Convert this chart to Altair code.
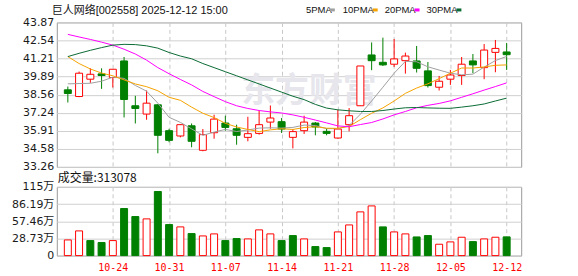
import altair as alt
import pandas as pd

# ---------------- data ----------------
dates = ["10-20", "10-21", "10-22", "10-23", "10-24", "10-27", "10-28", "10-29", "10-30", "10-31",
         "11-03", "11-04", "11-05", "11-06", "11-07", "11-10", "11-11", "11-12", "11-13", "11-14",
         "11-17", "11-18", "11-19", "11-20", "11-21", "11-24", "11-25", "11-26", "11-27", "11-28",
         "12-01", "12-02", "12-03", "12-04", "12-05", "12-08", "12-09", "12-10", "12-11", "12-12"]
opens = [38.92, 38.43, 39.70, 40.09, 39.82, 41.04, 37.75, 37.14, 37.82, 35.92,
         35.53, 36.28, 34.48, 35.77, 36.48, 36.06, 35.43, 35.72, 36.55, 36.58,
         35.43, 35.92, 36.48, 35.87, 35.38, 36.36, 37.75, 41.48, 40.94, 40.80,
         41.06, 41.04, 40.31, 39.11, 39.70, 39.97, 41.04, 40.55, 41.67, 41.70]
highs = [39.16, 40.26, 40.50, 40.50, 40.43, 41.33, 38.48, 38.87, 37.87, 36.06,
         36.40, 36.45, 36.04, 37.09, 37.02, 36.36, 36.94, 37.41, 37.77, 36.85,
         36.04, 37.02, 36.55, 36.11, 37.45, 37.58, 40.67, 42.40, 42.75, 42.65,
         41.65, 42.14, 40.96, 39.94, 40.38, 41.33, 41.55, 42.28, 42.58, 42.36]
lows = [37.99, 38.38, 39.43, 38.99, 39.09, 36.89, 36.45, 36.72, 34.26, 35.07,
        35.43, 34.70, 34.41, 35.33, 35.92, 34.89, 35.14, 35.63, 36.06, 35.75,
        34.62, 35.68, 35.58, 35.58, 35.33, 35.87, 37.75, 40.36, 40.67, 40.60,
        40.11, 40.19, 39.09, 38.87, 39.28, 39.28, 40.14, 39.70, 40.21, 40.38]
closes = [38.65, 40.14, 40.06, 39.97, 40.43, 38.21, 37.55, 37.94, 35.58, 35.21,
          36.36, 35.14, 35.63, 36.77, 36.16, 35.58, 35.70, 36.36, 36.85, 36.04,
          35.85, 36.55, 36.19, 35.72, 36.04, 37.02, 40.67, 41.06, 40.75, 41.19,
          41.40, 40.50, 39.23, 39.55, 40.01, 40.80, 40.75, 41.84, 41.96, 41.50]
prev_close = 38.40  # close of the session before the first shown
volumes = [26.2, 41.3, 25.1, 21.8, 25.1, 78.7, 65.3, 61.4, 107.2, 51.9,
           48.0, 36.8, 32.9, 36.3, 25.1, 28.5, 27.9, 43.0, 36.3, 25.1,
           33.5, 27.9, 15.1, 13.4, 39.6, 51.3, 73.1, 83.1, 48.0, 39.6,
           36.3, 31.2, 33.5, 19.0, 22.9, 30.7, 23.4, 27.9, 30.7, 31.31]  # 万
ma5 = [39.36, 39.38, 39.40, 39.55, 39.85, 39.76, 39.24, 38.82, 37.94, 36.90,
       36.53, 36.05, 35.58, 35.82, 36.01, 35.86, 35.97, 36.11, 36.13, 36.11,
       36.16, 36.33, 36.30, 36.07, 36.07, 36.30, 37.13, 38.10, 39.11, 40.14,
       41.01, 40.98, 40.61, 40.37, 40.14, 40.02, 40.07, 40.59, 41.07, 41.37]
ma10 = [41.36, 40.85, 40.45, 40.15, 39.95, 39.65, 39.35, 39.15, 38.85, 38.37,
        38.15, 37.65, 37.20, 36.88, 36.46, 36.19, 36.01, 35.85, 35.98, 36.06,
        36.01, 36.15, 36.21, 36.10, 36.09, 36.23, 36.73, 37.20, 37.59, 38.10,
        38.66, 39.05, 39.36, 39.74, 40.14, 40.52, 40.52, 40.60, 40.72, 40.75]
ma20 = [42.99, 42.80, 42.62, 42.42, 42.20, 41.90, 41.55, 41.10, 40.55, 40.10,
        39.68, 39.28, 38.80, 38.42, 38.05, 37.75, 37.55, 37.40, 37.30, 37.22,
        37.08, 36.90, 36.70, 36.49, 36.27, 36.21, 36.37, 36.52, 36.78, 37.08,
        37.33, 37.60, 37.78, 37.92, 38.11, 38.37, 38.63, 38.90, 39.16, 39.43]
ma30 = [41.36, 41.60, 41.82, 42.02, 42.20, 42.26, 42.24, 42.15, 41.98, 41.66,
        41.40, 41.20, 40.85, 40.55, 40.25, 39.95, 39.65, 39.35, 39.05, 38.75,
        38.45, 38.20, 37.85, 37.58, 37.45, 37.38, 37.33, 37.33, 37.40, 37.51,
        37.60, 37.62, 37.59, 37.57, 37.56, 37.65, 37.75, 37.88, 38.10, 38.31]
ma_names = ["5PMA", "10PMA", "20PMA", "30PMA"]
price_ticks = [33.26, 34.58, 35.91, 37.24, 38.56, 39.89, 41.21, 42.54, 43.87]
vol_ticks = [0, 28.73, 57.46, 86.19, 115]
date_ticks = ["10-24", "10-31", "11-07", "11-14", "11-21", "11-28", "12-05", "12-12"]
header = "巨人网络[002558] 2025-12-12 15:00"
vol_title = "成交量:313078"
watermark = "东方财富"

# ---------------- styles ----------------
RED = "#ff0000"
GREEN = "#008000"
MA_COLORS = ["#a0a0a0", "#f5a300", "#ff00ff", "#0b6b35"]
GRID = "#d0d0d0"
VGRID = "#c8c8c8"

n = len(dates)
df = pd.DataFrame({"i": list(range(n)), "date": dates, "open": opens, "high": highs,
                   "low": lows, "close": closes, "vol": volumes})
df["up"] = df["close"] >= df["open"]
prevs = [prev_close] + closes[:-1]
df["vup"] = [c >= p for c, p in zip(closes, prevs)]

ma_df = pd.DataFrame({
    "i": list(range(n)) * 4,
    "name": sum([[nm] * n for nm in ma_names], []),
    "v": ma5 + ma10 + ma20 + ma30,
})

tick_idx = [dates.index(d) for d in date_ticks]
label_expr = "".join(f"datum.value == {i} ? '{dates[i]}' : " for i in tick_idx) + "''"

xscale = alt.Scale(domain=[-0.537, n - 0.15], nice=False, zero=False)
pscale = alt.Scale(domain=[price_ticks[0], price_ticks[-1]], nice=False, zero=False)
vscale = alt.Scale(domain=[0, vol_ticks[-1]], nice=False, zero=True)

px_axis = alt.Axis(values=tick_idx, labels=False, ticks=False, domain=False, grid=True,
                   gridDash=[4, 3], gridColor=VGRID, title=None)
py_axis = alt.Axis(values=price_ticks, format=".2f", ticks=False, domain=False, grid=True,
                   gridColor=GRID, labelFont="DejaVu Sans", labelFontSize=11,
                   labelColor="#1a1a1a", labelPadding=3, labelFlush=False,
                   labelOverlap=False, title=None)
vx_axis = alt.Axis(values=tick_idx, labelExpr=label_expr, ticks=False, domain=False,
                   grid=True, gridDash=[4, 3], gridColor=VGRID, labelColor=RED,
                   labelFont="DejaVu Sans Mono", labelFontSize=10, labelPadding=7,
                   labelFlush=False, labelOverlap=False, title=None)
vy_axis = alt.Axis(values=vol_ticks,
                   labelExpr="datum.value == 0 ? '0' : datum.value == 115 ? '115万' : format(datum.value, '.2f') + '万'",
                   ticks=False, domain=False, grid=True, gridColor=GRID,
                   labelFont="DejaVu Sans, Noto Sans CJK SC", labelFontSize=11,
                   labelColor="#1a1a1a", labelPadding=3, labelFlush=False,
                   labelOverlap=False, title=None)

X = alt.X("i:Q", scale=xscale, axis=px_axis)
VX = alt.X("i:Q", scale=xscale, axis=vx_axis)

one = pd.DataFrame({"k": [0]})

# ---------------- price panel ----------------
wm = alt.Chart(pd.DataFrame({"t": [watermark]})).mark_text(
    font="Noto Sans CJK SC", fontSize=34, fontWeight="bold", color="#e6e6ec",
    align="center", baseline="middle").encode(
    x=alt.value(253), y=alt.value(70), text="t:N")

wick = alt.Chart(df).mark_rule(strokeWidth=1).encode(
    x=X,
    y=alt.Y("low:Q", scale=pscale, axis=py_axis),
    y2="high:Q",
    color=alt.condition("datum.up", alt.value(RED), alt.value(GREEN)),
)
body = alt.Chart(df).mark_bar(size=7, strokeWidth=1).encode(
    x=X,
    y=alt.Y("open:Q", scale=pscale, axis=py_axis),
    y2="close:Q",
    fill=alt.condition("datum.up", alt.value("white"), alt.value(GREEN)),
    stroke=alt.condition("datum.up", alt.value(RED), alt.value(GREEN)),
)
lines = alt.Chart(ma_df).mark_line(strokeWidth=1).encode(
    x=X,
    y=alt.Y("v:Q", scale=pscale, axis=py_axis),
    color=alt.Color("name:N", scale=alt.Scale(domain=ma_names, range=MA_COLORS), legend=None),
    order="i:Q",
)

head = alt.Chart(pd.DataFrame({"t": [header]})).mark_text(
    font="Liberation Sans, Noto Sans CJK SC", fontSize=11, color="#111",
    align="left", baseline="middle").encode(
    x=alt.value(-5), y=alt.value(-11.5), text="t:N")

legend_layers = []
leg_text_x = [250, 287, 329, 371]
leg_sw_x = [274, 317, 359, 401]
for nm, col, tx, sx in zip(ma_names, MA_COLORS, leg_text_x, leg_sw_x):
    legend_layers.append(
        alt.Chart(pd.DataFrame({"t": [nm]})).mark_text(
            font="Liberation Sans", fontSize=9.5, color="#111",
            align="left", baseline="middle").encode(
            x=alt.value(tx), y=alt.value(-12.5), text="t:N"))
    legend_layers.append(
        alt.Chart(one).mark_rect(color=col).encode(
            x=alt.value(sx), x2=alt.value(sx + 5), y=alt.value(-14), y2=alt.value(-11)))

corner_tl = alt.Chart(one).mark_rect(color="white").encode(
    x=alt.value(-56), x2=alt.value(-55), y=alt.value(-21), y2=alt.value(-20))

price = alt.layer(corner_tl, wm, wick, body, lines, head, *legend_layers).properties(
    width=466, height=145)

# ---------------- volume panel ----------------
vbars = alt.Chart(df).mark_bar(size=7, strokeWidth=1).encode(
    x=VX,
    y=alt.Y("vol:Q", scale=vscale, axis=vy_axis),
    fill=alt.condition("datum.vup", alt.value("white"), alt.value(GREEN)),
    stroke=alt.condition("datum.vup", alt.value(RED), alt.value(GREEN)),
)
vtitle = alt.Chart(pd.DataFrame({"t": [vol_title]})).mark_text(
    font="Noto Sans CJK SC", fontSize=12, color="#111",
    align="left", baseline="middle").encode(
    x=alt.value(1), y=alt.value(-9), text="t:N")
corner_br = alt.Chart(one).mark_rect(color="white").encode(
    x=alt.value(521), x2=alt.value(522), y=alt.value(89), y2=alt.value(90))

vol = alt.layer(vbars, vtitle, corner_br).properties(width=466, height=69)

chart = alt.vconcat(price, vol, spacing=20, bounds="flush").properties(
    padding=0, background="white"
).configure_view(stroke="#999999", strokeWidth=1)

chart.save("out.html", embed_options={"renderer": "svg", "actions": False})
